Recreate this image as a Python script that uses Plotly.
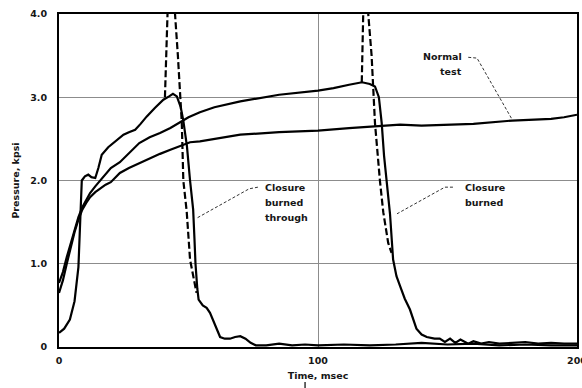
import plotly.graph_objects as go

# ---- Data ----
# Normal test (solid)
t_normal = [0, 1.5, 3, 4.5, 6, 7.5, 9, 10.5, 12, 14, 16, 18, 20, 23.5, 27, 31, 35, 39, 43, 47,
            50.6, 54.4, 60, 70, 85, 100, 112, 124, 131.7, 140, 150, 160, 175, 185, 190, 195, 200]
p_normal = [0.65, 0.8, 1.0, 1.2, 1.38, 1.53, 1.65, 1.73, 1.8, 1.86, 1.91, 1.95, 1.98, 2.09, 2.15, 2.21,
            2.27, 2.32, 2.37, 2.42, 2.46, 2.47, 2.5, 2.55, 2.58, 2.6, 2.63, 2.65, 2.67, 2.66, 2.67, 2.68,
            2.72, 2.73, 2.74, 2.76, 2.79]

# Closure burned through (solid, measured)
t_through = [0, 2, 4.2, 6, 7.5, 8.3, 8.8, 10, 11.3, 12.5, 14, 15.2, 16.5, 19, 21, 23, 24.9, 27, 29.4,
             31.5, 33.9, 37, 40.3, 42.5, 44, 45.5, 47, 48, 49.4, 50.6, 51.8, 52.3, 52.7, 53.4, 53.9,
             55.5, 57, 58.3, 60.2, 62.2, 64, 66, 68, 70, 72, 74, 76, 80, 85, 90, 95, 100, 110, 120,
             130, 140, 150, 160, 170, 180, 190, 200]
p_through = [0.17, 0.22, 0.33, 0.55, 0.96, 1.6, 2.0, 2.05, 2.07, 2.04, 2.03, 2.15, 2.31, 2.4, 2.45, 2.5,
             2.55, 2.58, 2.61, 2.68, 2.77, 2.87, 2.97, 3.01, 3.04, 3.01, 2.88, 2.72, 2.41, 2.0, 1.65,
             1.3, 1.0, 0.7, 0.57, 0.5, 0.47, 0.41, 0.27, 0.12, 0.1, 0.1, 0.12, 0.13, 0.1, 0.05, 0.02,
             0.02, 0.04, 0.02, 0.03, 0.02, 0.03, 0.02, 0.03, 0.05, 0.03, 0.04, 0.02, 0.03, 0.02, 0.02]

# Closure burned through (dashed spike)
t_through_d = [40.9, 41.5, 42.1, 42.4, 44.4, 44.8, 45.9, 46.9, 47.4, 48.0, 49.3, 50.6, 51.9, 53.1]
p_through_d = [3.0, 3.5, 4.0, 4.5, 4.5, 4.0, 3.5, 3.0, 2.7, 2.0, 1.63, 1.05, 0.85, 0.65]

# Closure burned (solid, measured)
t_burned = [0, 1.5, 3, 4.5, 6, 7.5, 9, 10.5, 12, 14, 16, 18, 20, 23.5, 27, 31, 35, 39, 43, 47, 50,
            54.4, 60, 70, 85, 100, 106, 112, 117, 120, 122, 123.5, 124.6, 125.5, 126.5, 127.8, 129,
            130.3, 131.7, 133.5, 135.5, 137, 138, 140, 142, 145, 147, 149, 151, 153, 155, 158, 160,
            163, 166, 170, 175, 180, 185, 190, 195, 200]
p_burned = [0.77, 0.9, 1.08, 1.25, 1.42, 1.56, 1.68, 1.76, 1.85, 1.93, 2.0, 2.07, 2.15, 2.22, 2.33,
            2.45, 2.52, 2.57, 2.63, 2.7, 2.76, 2.82, 2.88, 2.95, 3.03, 3.08, 3.11, 3.15, 3.18, 3.16,
            3.13, 3.0, 2.69, 2.3, 2.0, 1.6, 1.05, 0.85, 0.73, 0.58, 0.45, 0.3, 0.22, 0.15, 0.12, 0.1,
            0.1, 0.06, 0.1, 0.05, 0.09, 0.04, 0.07, 0.04, 0.06, 0.04, 0.05, 0.06, 0.04, 0.05, 0.04, 0.04]

# Closure burned (dashed spike)
t_burned_d = [116.9, 117.3, 117.6, 117.8, 119.1, 119.4, 120.7, 121.4, 122.0, 123.9, 125.2, 127.1, 128.4]
p_burned_d = [3.18, 3.6, 4.0, 4.5, 4.5, 4.0, 3.5, 3.05, 2.69, 2.0, 1.62, 1.25, 1.13]

x_ticks = [0, 100, 200]
x_tick_text = ["0", "100", "200"]
y_ticks = [0, 1, 2, 3, 4]
y_tick_text = ["0", "1.0", "2.0", "3.0", "4.0"]

# Callout labels (one entry per text line) and leader lines (data coords)
lbl_normal_lines = ["Normal", "test"]
lbl_normal_pos = (156.5, [3.49, 3.31])
lead_normal_x = [158, 161.4, 175]
lead_normal_y = [3.48, 3.47, 2.73]

lbl_through_lines = ["Closure", "burned", "through"]
lbl_through_pos = (78.6, [1.91, 1.73, 1.56])
lead_through_x = [76.8, 73.4, 53.3]
lead_through_y = [1.92, 1.90, 1.55]

lbl_burned_lines = ["Closure", "burned"]
lbl_burned_pos = (155.8, [1.92, 1.73])
lead_burned_x = [152.1, 149, 130.5]
lead_burned_y = [1.92, 1.92, 1.6]

FONT = "DejaVu Sans"
TXT = "#161616"

fig = go.Figure()
line_w = 2.2
for tx, py in [(t_normal, p_normal), (t_through, p_through), (t_burned, p_burned)]:
    fig.add_trace(go.Scatter(x=tx, y=py, mode="lines", line=dict(color="black", width=line_w),
                             showlegend=False, hoverinfo="skip"))
for tx, py in [(t_through_d, p_through_d), (t_burned_d, p_burned_d)]:
    fig.add_trace(go.Scatter(x=tx, y=py, mode="lines",
                             line=dict(color="black", width=2.2, dash="7px,3px"),
                             showlegend=False, hoverinfo="skip"))
for lx, ly in [(lead_normal_x, lead_normal_y), (lead_through_x, lead_through_y),
               (lead_burned_x, lead_burned_y)]:
    fig.add_trace(go.Scatter(x=lx, y=ly, mode="lines",
                             line=dict(color="#333", width=1, dash="3px,2px"),
                             showlegend=False, hoverinfo="skip", cliponaxis=False))

anns = []
for lines, (ax, ays), anchor in [(lbl_normal_lines, lbl_normal_pos, "right"),
                                 (lbl_through_lines, lbl_through_pos, "left"),
                                 (lbl_burned_lines, lbl_burned_pos, "left")]:
    for txt, ay in zip(lines, ays):
        anns.append(dict(x=ax, y=ay, xref="x", yref="y", text="<b>%s</b>" % txt, showarrow=False,
                         xanchor=anchor, yanchor="middle", align=anchor,
                         font=dict(family=FONT, size=9.5, color=TXT)))

fig.update_layout(
    width=582, height=388,
    margin=dict(l=59, r=5, t=14, b=41),
    paper_bgcolor="white", plot_bgcolor="white",
    font=dict(family=FONT, size=10, color=TXT),
    annotations=anns,
    hovermode=False,
    xaxis=dict(range=[0, 200], tickvals=x_ticks, ticktext=["<b>%s</b>" % s for s in x_tick_text],
               showline=True, mirror=True, linecolor="black", linewidth=2,
               showgrid=True, gridcolor="#8c8c8c", gridwidth=1, zeroline=False,
               ticks="", ticklabelstandoff=4, automargin=False, ticklabeloverflow="allow",
               tickfont=dict(family=FONT, size=9.5, color=TXT),
               title=dict(text="<b>Time, msec</b>", standoff=7, font=dict(family=FONT, size=9.5, color=TXT))),
    yaxis=dict(range=[0, 4], tickvals=y_ticks, ticktext=["<b>%s</b>" % s for s in y_tick_text],
               showline=True, mirror=True, linecolor="black", linewidth=2,
               showgrid=True, gridcolor="#8c8c8c", gridwidth=1, zeroline=False,
               ticks="", ticklabelstandoff=8, automargin=False, ticklabeloverflow="allow",
               tickfont=dict(family=FONT, size=9.5, color=TXT),
               title=dict(text="<b>Pressure, kpsi</b>", standoff=9, font=dict(family=FONT, size=9.5, color=TXT))),
    shapes=[dict(type="line", xref="x", yref="paper", x0=95, x1=95, y0=-0.105, y1=-0.13,
                 line=dict(color="black", width=1.2))],
)

fig.write_html("out.html", config={"displayModeBar": False, "staticPlot": True},
               post_script="document.body.style.margin='0px';")
